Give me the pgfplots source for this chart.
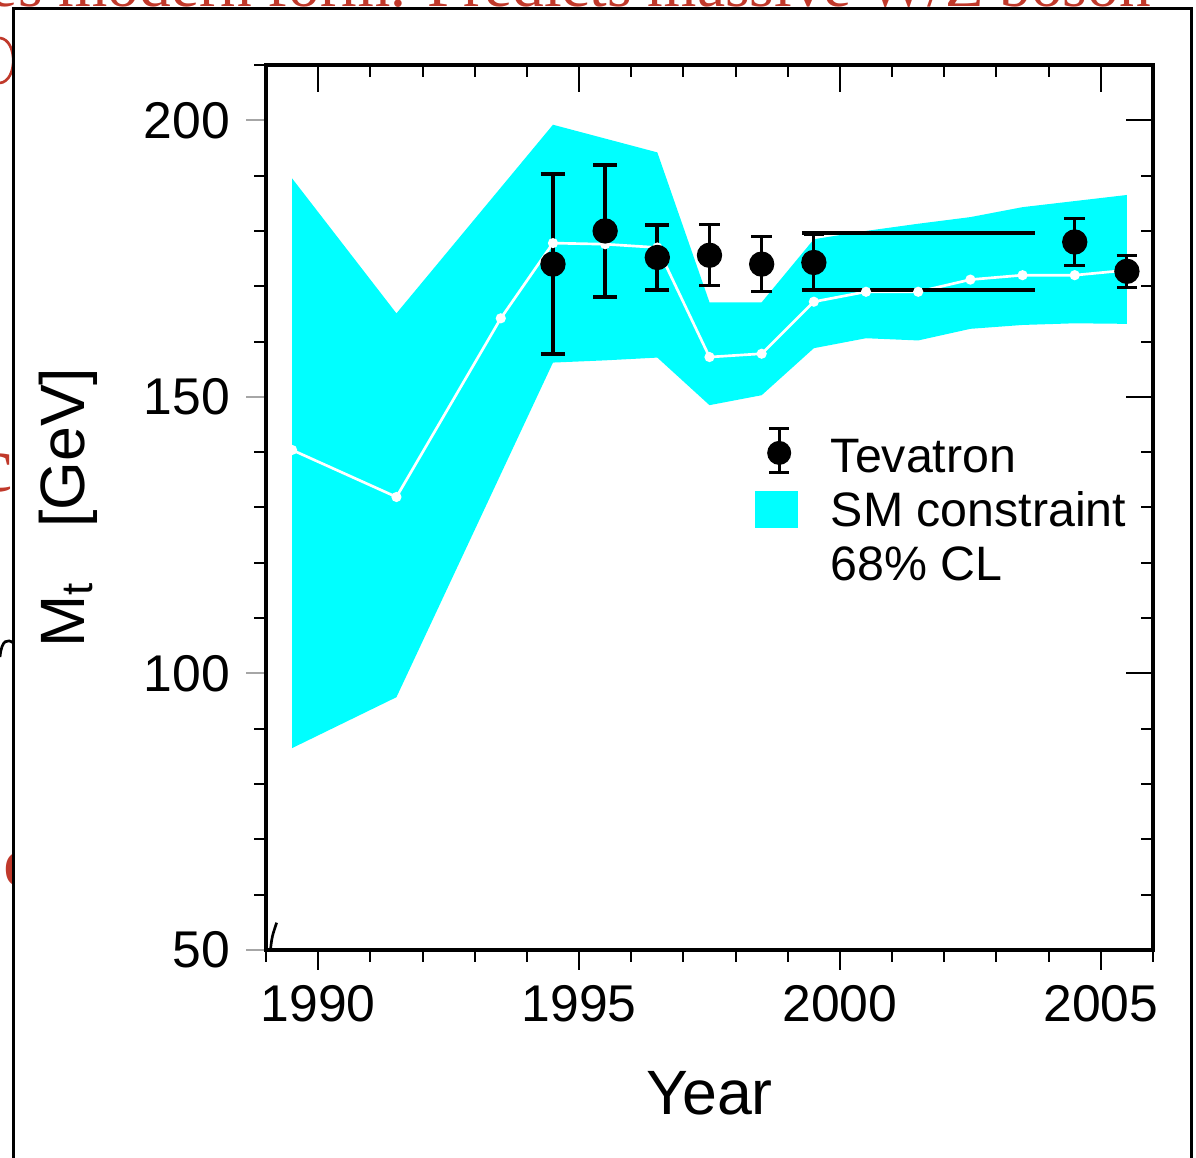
\documentclass[border=0pt]{standalone}
\usepackage{fontspec}
\setmainfont{Liberation Sans}
\newfontfamily\slidefont{Liberation Serif}
\usepackage{pgfplots}
\pgfplotsset{compat=1.18}
\definecolor{slidered}{RGB}{192,57,43}
\definecolor{smcyan}{RGB}{0,255,255}

\pgfplotsset{
  mtbase/.style={
    at={(0pt,0pt)}, anchor=south west,
    scale only axis, width=266.1pt, height=265.5pt,
    xmin=1989, xmax=2006, ymin=50, ymax=210,
    xtick={1990,1995,2000,2005},
    minor xtick={1989,...,2006},
    ytick={50,100,150,200},
    minor ytick={50,60,...,210},
    minor tick length=3.5pt,
    tick style={line width=0.6pt, black},
    axis line style={line width=1pt},
    /pgf/number format/assume math mode=true,
    /pgf/number format/set thousands separator={},
  },
}

\begin{document}
\begin{tikzpicture}[x=1pt,y=1pt]
\useasboundingbox (-79.8,-62.4) rectangle (279,285);
% slide text behind the picture
\node[anchor=base west, inner sep=0pt, text=slidered,
      font=\slidefont\fontsize{19}{21}\selectfont] at (-83,282.9)
      {es modern form. Predicts massive W/Z boson};
\node[anchor=base east, inner sep=0pt, text=slidered,
      font=\slidefont\fontsize{24}{26}\selectfont] at (-75.6,137.4) {c};
\node[anchor=base west, inner sep=0pt, text=slidered,
      font=\slidefont\fontsize{22}{24}\selectfont] at (-78.9,18.9) {c};
\draw[slidered, line width=0.8pt] (-79.8,273.6) .. controls (-74.5,273) and (-74.5,260.7) .. (-79.8,260.1);
\draw[black, line width=0.8pt] (-79.8,87.9) .. controls (-79.3,93.2) and (-77.5,93.4) .. (-75.8,92.1);
\draw[line width=0.9pt, fill=white] (-75.8,-80) -- (-75.8,282.45) -- (277.5,282.45) -- (277.5,-80);

\begin{axis}[mtbase,
    xtick pos=left, ytick pos=left, tick align=outside,
    major tick length=6pt,
    major y tick style={gray!70},
    tick label style={font=\fontsize{15.5}{18}\selectfont, inner sep=0pt},
    xticklabel style={yshift=-4.5pt},
    yticklabel style={xshift=-4.6pt},
    xlabel={Year},
    ylabel={M\textsubscript{t}\hspace{0.85em}[GeV]},
    label style={font=\fontsize{18.8}{22}\selectfont},
    xlabel style={at={(axis description cs:0.5,0)}, anchor=center, yshift=-42.9pt},
    ylabel style={at={(axis description cs:-0.2232,0.5)}, anchor=center},
    legend style={at={(axis cs:1998.35,144.6)}, anchor=north west, draw=none, fill=none,
      inner sep=0pt, font=\fontsize{14.5}{17}\selectfont, row sep=2.2pt,
      nodes={inner sep=0pt, text height=10.8pt, text depth=3.2pt},
      /tikz/every odd column/.style={column sep=9.9pt}},
    legend cell align=left,
]
% SM constraint 68% CL band
\addplot[fill=smcyan, draw=none, forget plot] coordinates {
  (1989.5,189.5) (1991.5,165.1) (1994.5,199.2) (1995.5,196.7) (1996.5,194.2)
  (1997.5,167.1) (1998.5,167.1) (1999.5,178.5) (2000.5,180.0) (2001.5,181.3)
  (2002.5,182.5) (2003.5,184.3) (2004.5,185.4) (2005.5,186.5)
  (2005.5,163.2) (2004.5,163.3) (2003.5,163.0) (2002.5,162.3) (2001.5,160.2)
  (2000.5,160.6) (1999.5,158.8) (1998.5,150.3) (1997.5,148.5) (1996.5,157.1)
  (1995.5,156.6) (1994.5,156.2) (1991.5,95.7) (1989.5,86.5)
};
% SM central value
\addplot[white, line width=0.8pt, mark=*, mark size=1.1pt, forget plot] coordinates {
  (1989.5,140.4) (1991.5,131.9) (1993.5,164.2) (1994.5,177.8) (1995.5,177.6)
  (1996.5,177.0) (1997.5,157.2) (1998.5,157.8) (1999.5,167.2) (2000.5,169.0)
  (2001.5,169.0) (2002.5,171.2) (2003.5,172.0) (2004.5,172.0) (2005.5,172.9)
};
% Run I combined band edges
\addplot[black, line width=1.2pt, forget plot] coordinates {(1999.27,179.6) (2003.73,179.6)};
\addplot[black, line width=1.2pt, forget plot] coordinates {(1999.27,169.3) (2003.73,169.3)};
% Tevatron measurements
\addplot[black, only marks, mark=*, mark size=3.6pt, forget plot,
  error bars/.cd, y dir=both, y explicit,
  error bar style={line width=1.2pt, black},
  error mark options={rotate=90, mark size=3.6pt, line width=1.2pt, black}]
  coordinates {
  (1994.5,174.0) +- (0,16.3)
  (1995.5,180.0) +- (0,12.0)
  (1996.5,175.2) +- (0,5.9)
};
\addplot[black, only marks, mark=*, mark size=3.6pt, forget plot,
  error bars/.cd, y dir=both, y explicit,
  error bar style={line width=0.9pt, black},
  error mark options={rotate=90, mark size=3.1pt, line width=0.9pt, black}]
  coordinates {
  (1997.5,175.6) +- (0,5.5)
  (1998.5,174.0) +- (0,5.0)
  (1999.5,174.3) +- (0,5.1)
  (2004.5,178.0) +- (0,4.3)
  (2005.5,172.7) +- (0,2.9)
};
\addlegendimage{legend image code/.code={
  \path (0pt,0pt) (12.6pt,0pt);
  \draw[line width=0.9pt] (7.2pt,-3.8pt) -- (7.2pt,9.4pt);
  \draw[line width=0.9pt] (4.2pt,-3.8pt) -- (10.2pt,-3.8pt) (4.2pt,9.4pt) -- (10.2pt,9.4pt);
  \fill (7.2pt,2.2pt) circle (3.4pt);
}}
\addlegendentry{Tevatron}
\addlegendimage{legend image code/.code={\fill[smcyan] (0pt,-3.8pt) rectangle (12.6pt,6.7pt);}}
\addlegendentry{SM constraint}
\addlegendimage{empty legend}
\addlegendentry{68\% CL}
\end{axis}

\begin{axis}[mtbase,
    xtick pos=right, ytick pos=right, tick align=inside,
    major tick length=8pt,
    xticklabels={}, yticklabels={},
]
\end{axis}
% stray stroke near the lower-left corner
\draw[black, line width=0.8pt] (1.4,0.6) .. controls (1.8,4) .. (3.2,8.2);
\end{tikzpicture}
\end{document}
